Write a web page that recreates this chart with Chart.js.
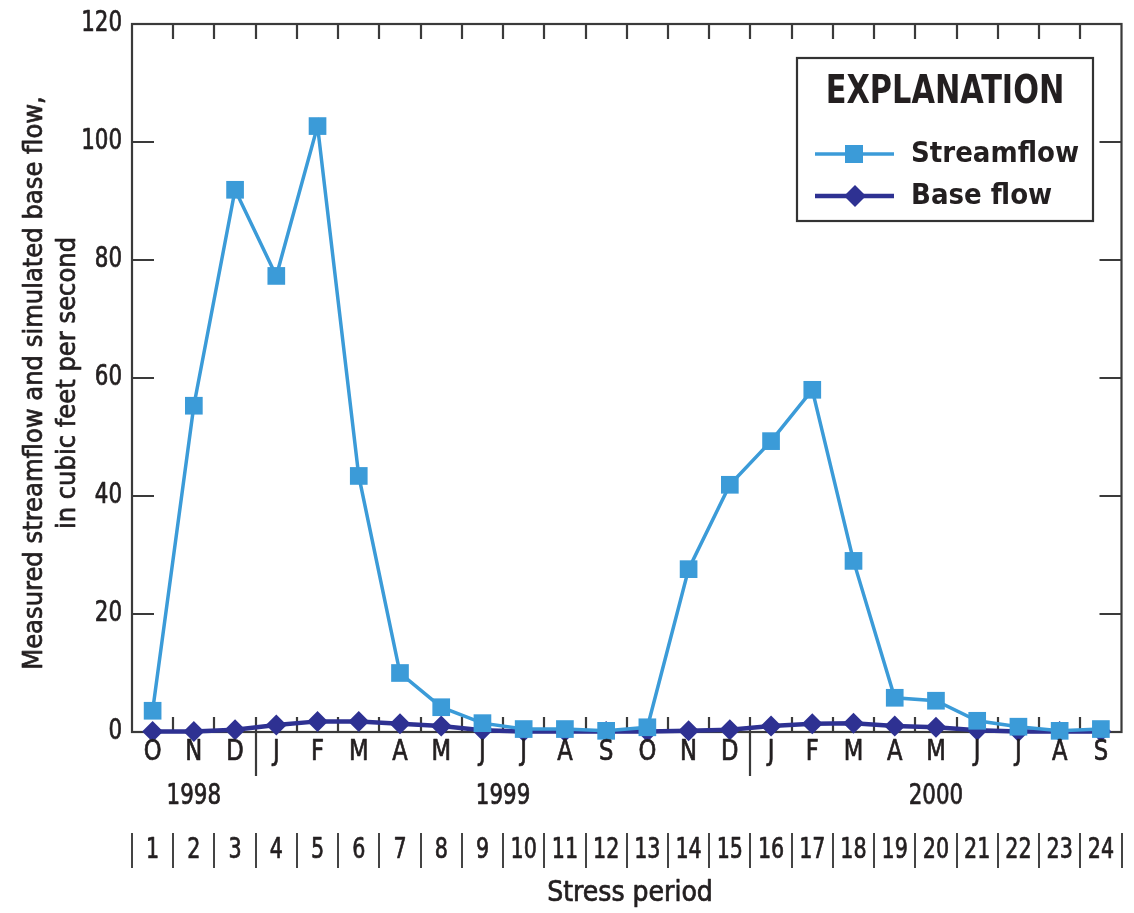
<!DOCTYPE html>
<html>
<head>
<meta charset="utf-8">
<script src="https://cdn.jsdelivr.net/npm/chart.js@4"></script>
<style>
  html, body { margin: 0; padding: 0; background: #fff; }
  #wrap { width: 1134px; height: 913px; }
</style>
</head>
<body>
<div id="wrap"><canvas id="c" width="1134" height="913"></canvas></div>
<script>
// Stress periods (monthly, Oct 1998 - Sep 2000)
const periods = ['1','2','3','4','5','6','7','8','9','10','11','12',
                 '13','14','15','16','17','18','19','20','21','22','23','24'];
const months = ['O','N','D','J','F','M','A','M','J','J','A','S',
                'O','N','D','J','F','M','A','M','J','J','A','S'];
// Year labels and the period each is centred on
const yearLabels = ['1998', '1999', '2000'];
const yearAt = [2, 9.5, 20];
// Calendar-year breaks fall after these periods
const yearBreaks = [3, 15];

// Measured streamflow, cubic feet per second
const streamflow = [3.6, 55.3, 91.9, 77.3, 102.7, 43.4, 10.0, 4.2, 1.5, 0.5, 0.5, 0.2,
                    0.8, 27.6, 41.9, 49.3, 58.0, 29.0, 5.8, 5.3, 1.9, 0.9, 0.2, 0.5];
// Simulated base flow, cubic feet per second
const baseflow = [0.1, 0.1, 0.4, 1.2, 1.8, 1.8, 1.4, 1.0, 0.3, 0.1, 0.1, 0.1,
                  0.1, 0.2, 0.4, 1.0, 1.4, 1.5, 1.0, 0.8, 0.3, 0.1, 0.1, 0.1];
const yTicks = [0, 20, 40, 60, 80, 100, 120];

const STREAM = '#3b9bd8';
const BASE = '#2e3192';
const INK = '#231f20';
const FONT = '"DejaVu Sans Condensed", "DejaVu Sans", sans-serif';

function xAt(chart, period) {          // period is 1-based, may be fractional
  return chart.scales.x.getPixelForValue(period - 1);
}

// Draws text with an optional horizontal squeeze for a condensed look;
// regular-weight text gets a hairline outline so it reads a little heavier
function text(ctx, str, x, y, size, opts = {}) {
  ctx.save();
  ctx.font = (opts.bold ? 'bold ' : '') + size + 'px ' + FONT;
  ctx.textAlign = opts.align || 'center';
  ctx.textBaseline = 'middle';
  ctx.fillStyle = INK;
  ctx.translate(x, y);
  if (opts.rotate) ctx.rotate(opts.rotate);
  ctx.scale(opts.sx || 1, 1);
  ctx.fillText(str, 0, 0);
  if (!opts.bold) {
    ctx.strokeStyle = INK;
    ctx.lineWidth = 0.7;
    ctx.lineJoin = 'round';
    ctx.strokeText(str, 0, 0);
  }
  ctx.restore();
}

const framePlugin = {
  id: 'frame',
  beforeDatasetsDraw(chart) {
    const { ctx, chartArea: a, scales } = chart;
    ctx.save();
    ctx.strokeStyle = '#3a3a3a';
    ctx.lineWidth = 2.2;
    ctx.strokeRect(a.left, a.top, a.right - a.left, a.bottom - a.top);
    ctx.beginPath();
    // y ticks, inward on both sides
    yTicks.forEach(v => {
      if (v === 0 || v === 120) return;
      const y = Math.round(scales.y.getPixelForValue(v));
      ctx.moveTo(a.left, y); ctx.lineTo(a.left + 22, y);
      ctx.moveTo(a.right, y); ctx.lineTo(a.right - 22, y);
    });
    // x ticks at period boundaries, inward top and bottom
    for (let i = 1; i < periods.length; i++) {
      const x = Math.round(xAt(chart, i + 0.5));
      ctx.moveTo(x, a.top); ctx.lineTo(x, a.top + 15);
      ctx.moveTo(x, a.bottom); ctx.lineTo(x, a.bottom - 15);
    }
    // calendar-year dividers run below the axis
    yearBreaks.forEach(p => {
      const x = Math.round(xAt(chart, p + 0.5));
      ctx.moveTo(x, a.bottom); ctx.lineTo(x, a.bottom + 44);
    });
    ctx.stroke();
    ctx.restore();
  },
  afterDraw(chart) {
    const { ctx, chartArea: a, scales } = chart;

    // y tick labels
    yTicks.forEach(v => text(ctx, String(v), a.left - 10, scales.y.getPixelForValue(v), 28,
                             { align: 'right', sx: 0.85 }));

    // month letters
    months.forEach((m, i) => text(ctx, m, xAt(chart, i + 1), 753, 28, { sx: 0.9 }));

    // years
    yearLabels.forEach((y, i) => text(ctx, y, xAt(chart, yearAt[i]), 797, 28, { sx: 0.85 }));

    // stress period numbers with separators
    periods.forEach((p, i) => text(ctx, p, xAt(chart, i + 1), 851, 28, { sx: 0.82 }));
    ctx.save();
    ctx.strokeStyle = '#444';
    ctx.lineWidth = 2;
    ctx.beginPath();
    for (let i = 0; i <= periods.length; i++) {
      const x = Math.round(xAt(chart, i + 0.5));
      ctx.moveTo(x, 833); ctx.lineTo(x, 868);
    }
    ctx.stroke();
    ctx.restore();

    text(ctx, 'Stress period', 630, 894, 28, { sx: 1.0 });

    // y axis title
    const cy = (a.top + a.bottom) / 2 + 5;
    text(ctx, 'Measured streamflow and simulated base flow,', 35, cy, 27, { rotate: -Math.PI / 2 });
    text(ctx, 'in cubic feet per second', 68, cy, 27, { rotate: -Math.PI / 2 });

    // explanation box
    const bx = 797, by = 58, bw = 296, bh = 163;
    ctx.save();
    ctx.fillStyle = '#fff';
    ctx.fillRect(bx, by, bw, bh);
    ctx.strokeStyle = '#333';
    ctx.lineWidth = 2.2;
    ctx.strokeRect(bx, by, bw, bh);
    ctx.restore();
    text(ctx, 'EXPLANATION', 945, 93, 39, { bold: true, sx: 0.865 });

    chart.data.datasets.forEach((ds, i) => {
      const y = 154 + i * 42;
      ctx.save();
      ctx.strokeStyle = ds.borderColor;
      ctx.lineWidth = ds.borderWidth;
      ctx.beginPath();
      ctx.moveTo(815, y); ctx.lineTo(894, y);
      ctx.stroke();
      ctx.fillStyle = ds.pointBackgroundColor;
      ctx.beginPath();
      if (ds.pointStyle === 'rect') {
        ctx.rect(845, y - 9, 18, 18);
      } else {
        ctx.moveTo(855, y - 11); ctx.lineTo(866, y); ctx.lineTo(855, y + 11); ctx.lineTo(844, y);
        ctx.closePath();
      }
      ctx.fill();
      ctx.restore();
      text(ctx, ds.label, 911, y, 29, { bold: true, align: 'left' });
    });
  }
};

new Chart(document.getElementById('c'), {
  type: 'line',
  data: {
    labels: periods,
    datasets: [
      {
        label: 'Streamflow',
        data: streamflow,
        borderColor: STREAM,
        backgroundColor: STREAM,
        pointBackgroundColor: STREAM,
        pointBorderColor: STREAM,
        borderWidth: 3.5,
        pointStyle: 'rect',
        pointRadius: 12.5,
        pointBorderWidth: 0,
        tension: 0,
        clip: false
      },
      {
        label: 'Base flow',
        data: baseflow,
        borderColor: BASE,
        backgroundColor: BASE,
        pointBackgroundColor: BASE,
        pointBorderColor: BASE,
        borderWidth: 4.5,
        pointStyle: 'rectRot',
        pointRadius: 10.5,
        pointBorderWidth: 0,
        tension: 0,
        clip: false
      }
    ]
  },
  options: {
    responsive: false,
    animation: false,
    devicePixelRatio: 1,
    layout: { padding: { left: 132, right: 7, top: 24, bottom: 181 } },
    plugins: { legend: { display: false }, tooltip: { enabled: false } },
    scales: {
      x: { type: 'category', offset: true, display: false },
      y: { type: 'linear', min: 0, max: 120, display: false }
    }
  },
  plugins: [framePlugin]
});
</script>
</body>
</html>
